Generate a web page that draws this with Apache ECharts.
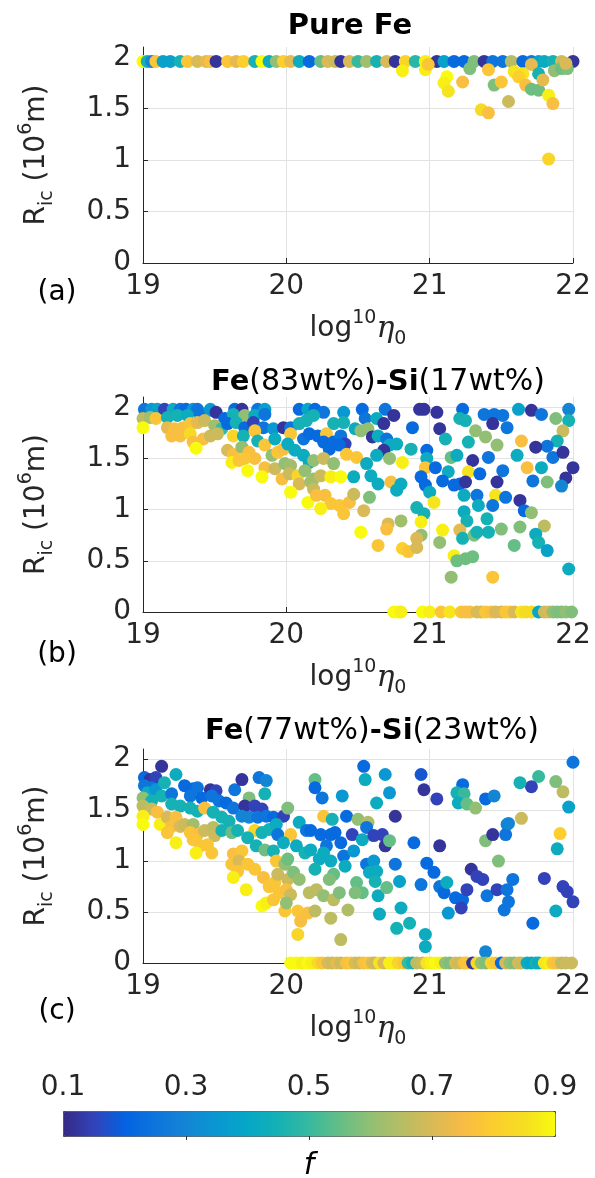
<!DOCTYPE html>
<html>
<head>
<meta charset="utf-8">
<script src="https://cdn.jsdelivr.net/npm/echarts@6.0.0/dist/echarts.min.js"></script>
<style>
  html, body { margin: 0; padding: 0; background: #fff; }
  #chart { width: 595px; height: 1178px; }
</style>
</head>
<body>
<div id="chart"></div>
<script>
// [log10 eta0, R_ic (10^6 m), f]
const pureFe = [
  [19.00,1.96,0.9],[19.03,1.96,0.45],[19.06,1.96,0.3],[19.09,1.96,0.78],[19.14,1.96,0.38],[19.19,1.96,0.38],
  [19.26,1.96,0.45],[19.31,1.96,0.78],[19.38,1.96,0.7],[19.44,1.96,0.72],[19.47,1.96,0.76],[19.51,1.96,0.12],
  [19.59,1.96,0.78],[19.65,1.96,0.72],[19.70,1.96,0.8],[19.78,1.96,0.45],[19.83,1.96,0.9],[19.88,1.96,0.42],
  [19.93,1.96,0.6],[19.98,1.96,0.8],[20.03,1.96,0.72],[20.09,1.96,0.42],[20.16,1.96,0.22],[20.24,1.96,0.55],
  [20.29,1.96,0.7],[20.34,1.96,0.68],[20.38,1.96,0.12],[20.44,1.96,0.7],[20.50,1.96,0.5],[20.56,1.96,0.62],
  [20.63,1.96,0.45],[20.70,1.96,0.7],[20.76,1.96,0.12],[20.83,1.96,0.82],[20.90,1.96,0.48],[20.97,1.96,0.88],
  [21.05,1.96,0.12],[21.10,1.96,0.38],[21.17,1.96,0.22],[21.24,1.96,0.22],[21.31,1.96,0.58],[21.38,1.96,0.12],
  [21.44,1.96,0.25],[21.51,1.96,0.25],[21.57,1.96,0.65],[21.65,1.96,0.22],[21.71,1.96,0.25],[21.76,1.96,0.38],
  [21.80,1.96,0.42],[21.86,1.96,0.45],[21.92,1.96,0.68],[22.00,1.96,0.12],
  [20.81,1.87,0.88],[20.97,1.88,0.88],[20.99,1.93,0.78],[21.12,1.81,0.9],[21.10,1.75,0.88],[21.13,1.67,0.86],
  [21.23,1.76,0.76],[21.28,1.89,0.58],[21.41,1.88,0.78],[21.45,1.73,0.58],[21.50,1.76,0.78],[21.55,1.57,0.68],
  [21.36,1.49,0.84],[21.41,1.46,0.76],[21.59,1.86,0.86],[21.65,1.84,0.86],[21.62,1.81,0.8],[21.67,1.73,0.76],
  [21.71,1.69,0.56],[21.76,1.68,0.56],[21.71,1.93,0.72],[21.76,1.84,0.45],[21.79,1.78,0.72],[21.83,1.63,0.88],
  [21.86,1.55,0.76],[21.87,1.87,0.6],[21.92,1.89,0.56],[21.96,1.89,0.58],[21.83,1.01,0.82],[21.95,1.94,0.7]
];

const fe83Si17 = [
  [19.01,1.98,0.25],[19.06,1.98,0.35],[19.10,1.98,0.38],[19.15,1.98,0.15],[19.21,1.98,0.42],[19.26,1.98,0.25],
  [19.30,1.98,0.22],[19.35,1.98,0.35],[19.38,1.98,0.25],[19.47,1.98,0.42],[19.64,1.98,0.22],[19.69,1.98,0.12],
  [19.80,1.98,0.25],[19.85,1.98,0.38],[20.09,1.98,0.22],[20.15,1.98,0.4],
  [19.00,1.89,0.66],[19.05,1.90,0.62],[19.09,1.89,0.78],[19.17,1.90,0.45],[19.24,1.92,0.45],[19.31,1.92,0.42],
  [19.40,1.92,0.25],[19.47,1.97,0.35],[19.51,1.95,0.12],[19.57,1.89,0.22],[19.63,1.93,0.45],[19.71,1.92,0.6],
  [19.78,1.92,0.42],[19.85,1.93,0.25],
  [19.00,1.80,0.9],[19.17,1.80,0.72],[19.22,1.79,0.76],[19.28,1.80,0.76],[19.33,1.84,0.78],[19.38,1.85,0.72],
  [19.43,1.87,0.68],[19.50,1.82,0.62],[19.55,1.79,0.5],[19.59,1.84,0.22],[19.65,1.85,0.45],[19.71,1.80,0.22],
  [19.77,1.85,0.15],[19.84,1.80,0.25],[19.91,1.79,0.35],[19.98,1.80,0.12],[20.03,1.80,0.25],[20.09,1.84,0.45],
  [20.14,1.87,0.45],
  [19.20,1.72,0.76],[19.26,1.72,0.76],[19.33,1.74,0.84],[19.35,1.66,0.76],[19.42,1.69,0.76],[19.47,1.72,0.68],
  [19.52,1.74,0.68],[19.63,1.72,0.82],[19.70,1.72,0.45],[19.78,1.77,0.78],[19.80,1.67,0.45],[19.85,1.63,0.78],
  [19.92,1.69,0.42],[20.03,1.74,0.78],[20.12,1.69,0.25],[20.16,1.74,0.22],[19.37,1.60,0.9],
  [19.59,1.58,0.7],[19.63,1.54,0.76],[19.69,1.61,0.6],[19.74,1.56,0.76],[19.78,1.50,0.76],[19.71,1.50,0.78],
  [19.62,1.46,0.88],[19.67,1.48,0.78],[19.90,1.53,0.6],[19.94,1.56,0.78],[19.98,1.59,0.76],[20.01,1.64,0.42],
  [20.06,1.58,0.42],[20.12,1.53,0.42],[20.16,1.46,0.42],
  [19.73,1.38,0.9],[19.85,1.41,0.76],[19.92,1.40,0.68],[19.99,1.45,0.6],[20.03,1.43,0.62],[19.83,1.32,0.9],
  [19.97,1.30,0.76],[20.02,1.35,0.68],[20.08,1.33,0.82],[20.13,1.38,0.6],[20.09,1.25,0.7],[20.03,1.17,0.9],
  [20.15,1.07,0.9],[20.17,1.27,0.62],
  [20.20,1.98,0.22],[20.26,1.95,0.25],[20.40,1.95,0.35],[20.53,1.98,0.22],[20.55,1.89,0.25],[20.69,1.98,0.25],
  [20.75,1.92,0.12],[20.93,1.98,0.12],[20.96,1.98,0.12],[21.05,1.95,0.12],[21.23,1.98,0.22],[21.38,1.93,0.25],
  [21.45,1.93,0.25],[21.51,1.92,0.25],
  [20.19,1.92,0.45],[20.33,1.84,0.45],[20.40,1.85,0.45],[20.48,1.79,0.42],[20.52,1.77,0.6],[20.57,1.79,0.6],
  [20.63,1.89,0.42],[20.68,1.84,0.12],[20.60,1.71,0.12],[20.88,1.80,0.22],[21.07,1.79,0.12],[21.21,1.89,0.45],
  [21.25,1.87,0.45],[21.32,1.77,0.6],[21.44,1.84,0.12],[21.54,1.80,0.25],
  [20.22,1.72,0.22],[20.28,1.74,0.78],[20.26,1.66,0.22],[20.33,1.66,0.22],[20.38,1.72,0.25],[20.41,1.64,0.15],
  [20.37,1.63,0.22],[20.30,1.59,0.22],[20.64,1.72,0.42],[20.70,1.69,0.25],[20.77,1.64,0.42],[20.72,1.63,0.42],
  [20.68,1.58,0.12],[20.87,1.59,0.45],[20.98,1.58,0.22],[21.11,1.69,0.45],[21.27,1.66,0.45],[21.39,1.71,0.6],
  [21.47,1.63,0.6],
  [20.19,1.48,0.6],[20.26,1.50,0.68],[20.33,1.45,0.6],[20.42,1.54,0.78],[20.49,1.51,0.78],[20.56,1.45,0.42],
  [20.63,1.53,0.42],[20.72,1.50,0.6],[20.81,1.46,0.88],[20.98,1.50,0.42],[20.97,1.41,0.78],[21.04,1.41,0.22],
  [21.15,1.51,0.55],[21.19,1.53,0.42],[21.30,1.48,0.12],[21.41,1.51,0.25],[21.27,1.37,0.86],[21.13,1.37,0.42],
  [21.35,1.35,0.22],[21.51,1.38,0.25],
  [20.19,1.30,0.62],[20.24,1.33,0.68],[20.31,1.32,0.88],[20.38,1.32,0.9],[20.47,1.32,0.42],[20.59,1.33,0.42],
  [20.64,1.25,0.42],[20.73,1.27,0.76],[20.80,1.25,0.42],[20.77,1.19,0.42],[20.94,1.32,0.22],[20.97,1.24,0.22],
  [21.00,1.17,0.42],[21.09,1.28,0.22],[21.17,1.24,0.22],[21.21,1.25,0.22],[21.25,1.27,0.12],[21.47,1.27,0.12],
  [21.46,1.14,0.86],[21.53,1.12,0.25],[21.24,1.14,0.42],[21.33,1.14,0.25],
  [20.19,1.20,0.68],[20.21,1.14,0.76],[20.27,1.14,0.76],[20.31,1.06,0.78],[20.37,1.04,0.78],[20.40,0.96,0.78],
  [20.44,1.07,0.76],[20.47,1.15,0.68],[20.54,0.99,0.7],[20.58,1.12,0.58],[20.24,1.01,0.88],[20.91,1.02,0.45],
  [20.96,0.96,0.45],[21.03,1.07,0.86],[21.24,0.98,0.42],[21.26,0.89,0.45],[21.34,1.04,0.42],[21.40,0.91,0.45],
  [21.44,1.04,0.25],
  [20.52,0.78,0.9],[20.71,0.86,0.7],[20.70,0.81,0.76],[20.80,0.89,0.62],[20.94,0.88,0.88],[20.94,0.75,0.6],
  [20.91,0.72,0.7],[20.64,0.65,0.78],[20.81,0.62,0.8],[20.85,0.59,0.78],[20.91,0.63,0.7],[21.07,0.68,0.6],
  [21.09,0.80,0.88],[21.21,0.80,0.72],[21.23,0.72,0.45],[21.31,0.75,0.58],[21.33,0.78,0.45],[21.41,0.78,0.45],
  [21.50,0.81,0.58],
  [21.17,0.55,0.88],[21.19,0.50,0.56],[21.25,0.52,0.56],[21.30,0.54,0.56],[21.15,0.34,0.6],[21.44,0.34,0.78],
  [21.62,1.98,0.38],[21.71,1.97,0.12],[21.78,1.93,0.25],[21.88,1.89,0.58],[21.97,1.98,0.3],[21.97,1.87,0.45],
  [21.93,1.77,0.68],[21.89,1.67,0.45],[21.82,1.62,0.25],[21.74,1.61,0.12],[21.64,1.67,0.76],[21.61,1.53,0.42],
  [21.68,1.41,0.76],[21.78,1.41,0.42],[21.86,1.51,0.25],[21.93,1.56,0.12],[22.00,1.41,0.12],[21.95,1.31,0.12],
  [21.92,1.23,0.3],[21.82,1.27,0.58],[21.72,1.28,0.25],[21.63,1.09,0.12],[21.66,0.99,0.22],[21.71,0.97,0.6],
  [21.63,0.83,0.58],[21.80,0.84,0.66],[21.74,0.76,0.42],[21.76,0.68,0.45],[21.82,0.60,0.38],[21.59,0.65,0.55],
  [21.97,0.42,0.42],
  [20.75,0,0.9],[20.78,0,0.9],[20.80,0,0.88],[20.95,0,0.9],[21.00,0,0.88],[21.08,0,0.78],[21.14,0,0.86],
  [21.22,0,0.78],[21.25,0,0.76],[21.28,0,0.76],[21.33,0,0.7],[21.36,0,0.7],[21.39,0,0.78],[21.43,0,0.76],
  [21.46,0,0.7],[21.50,0,0.7],[21.53,0,0.78],[21.56,0,0.78],[21.59,0,0.7],[21.64,0,0.86],[21.67,0,0.84],
  [21.71,0,0.84],[21.76,0,0.4],[21.80,0,0.68],[21.83,0,0.7],[21.86,0,0.6],[21.89,0,0.58],[21.92,0,0.58],
  [21.95,0,0.6],[21.99,0,0.58]
];

const fe77Si23 = [
  [19.13,1.93,0.12],[19.23,1.85,0.42],[19.01,1.82,0.22],[19.05,1.80,0.12],[19.09,1.82,0.15],[19.01,1.74,0.25],
  [19.06,1.72,0.25],[19.03,1.67,0.42],[19.09,1.70,0.35],[19.15,1.77,0.45],[19.00,1.62,0.6],[19.06,1.59,0.45],
  [19.13,1.64,0.45],[19.20,1.66,0.25],[19.29,1.74,0.22],[19.35,1.71,0.22],[19.38,1.72,0.25],[19.47,1.70,0.12],
  [19.51,1.69,0.15],[19.64,1.70,0.25],[19.69,1.80,0.12],[19.81,1.82,0.25],[19.86,1.79,0.3],[19.85,1.66,0.45],
  [19.74,1.62,0.58],
  [19.33,1.64,0.25],[19.41,1.62,0.22],[19.48,1.64,0.25],[19.53,1.59,0.25],[19.58,1.57,0.22],[19.63,1.52,0.25],
  [19.71,1.54,0.12],[19.78,1.54,0.15],[19.83,1.51,0.15],[19.20,1.56,0.45],[19.26,1.54,0.45],[19.33,1.52,0.45],
  [19.38,1.49,0.45],[19.43,1.52,0.76],[19.49,1.48,0.45],[19.55,1.43,0.45],[19.60,1.39,0.45],[19.69,1.44,0.3],
  [19.74,1.43,0.3],[19.80,1.43,0.25],[19.86,1.44,0.25],[19.91,1.43,0.22],[19.98,1.44,0.15],[20.01,1.52,0.58],
  [19.00,1.54,0.66],[19.06,1.51,0.68],[19.10,1.48,0.76],[19.00,1.44,0.88],[19.00,1.36,0.9],[19.12,1.36,0.88],
  [19.17,1.43,0.7],[19.23,1.43,0.76],[19.20,1.34,0.76],[19.26,1.34,0.7],[19.17,1.28,0.78],[19.29,1.36,0.68],
  [19.35,1.36,0.62],[19.23,1.18,0.88],[19.33,1.28,0.78],[19.38,1.26,0.76],[19.35,1.21,0.78],[19.43,1.30,0.68],
  [19.49,1.33,0.66],[19.50,1.25,0.68],[19.45,1.16,0.78],[19.40,1.15,0.78],[19.37,1.08,0.88],[19.48,1.08,0.78],
  [19.55,1.30,0.45],[19.62,1.28,0.55],[19.66,1.30,0.45],[19.78,1.30,0.82],[19.73,1.23,0.45],[19.83,1.28,0.45],
  [19.88,1.31,0.45],[19.93,1.36,0.42],[19.94,1.26,0.25],[20.03,1.26,0.78],[20.09,1.38,0.42],[20.14,1.30,0.25],
  [19.79,1.15,0.45],[19.85,1.11,0.56],[19.91,1.10,0.45],[19.98,1.18,0.42],[20.07,1.15,0.42],[20.13,1.08,0.45],
  [19.63,1.07,0.76],[19.69,1.10,0.78],[19.62,0.97,0.78],[19.67,1.00,0.7],[19.73,0.97,0.78],[19.66,0.90,0.78],
  [19.63,0.84,0.88],[19.78,0.92,0.78],[19.72,0.72,0.88],[19.84,0.84,0.76],[19.93,1.00,0.78],[19.99,0.97,0.6],
  [20.01,1.02,0.56],[19.88,0.75,0.78],[19.92,0.79,0.78],[19.94,0.87,0.68],[20.01,0.82,0.68],[20.05,0.89,0.58],
  [20.09,0.82,0.6],
  [19.83,0.56,0.9],[19.86,0.59,0.88],[19.91,0.62,0.78],[19.95,0.69,0.78],[20.00,0.72,0.76],[20.03,0.67,0.68],
  [19.99,0.51,0.78],[20.08,0.51,0.78],[20.10,0.41,0.76],[20.15,0.49,0.76],[20.08,0.28,0.82],[20.16,0.69,0.66],
  [20.00,0.59,0.6],
  [20.54,1.93,0.22],[20.55,1.80,0.42],[20.69,1.85,0.35],[20.94,1.85,0.18],[20.96,1.70,0.12],[20.20,1.80,0.55],
  [20.20,1.72,0.22],[20.25,1.62,0.25],[20.39,1.64,0.35],[20.63,1.57,0.42],[20.72,1.67,0.35],[21.05,1.61,0.15],
  [21.23,1.75,0.22],[21.19,1.67,0.45],[21.24,1.66,0.5],[21.20,1.57,0.42],[21.26,1.56,0.55],[21.32,1.52,0.6],
  [21.39,1.61,0.22],[21.45,1.64,0.3],
  [20.26,1.44,0.78],[20.32,1.41,0.45],[20.42,1.44,0.22],[20.50,1.41,0.6],[20.57,1.38,0.64],[20.56,1.33,0.25],
  [20.76,1.44,0.12],[20.17,1.30,0.22],[20.24,1.26,0.22],[20.31,1.26,0.22],[20.34,1.28,0.22],[20.38,1.18,0.22],
  [20.28,1.15,0.25],[20.46,1.26,0.15],[20.53,1.21,0.42],[20.61,1.25,0.15],[20.67,1.26,0.15],[20.69,1.15,0.12],
  [20.72,1.20,0.55],[20.89,1.18,0.22],[21.07,1.15,0.12],[21.39,1.20,0.58],[21.44,1.26,0.12],[21.54,1.36,0.3],
  [21.53,1.26,0.25],
  [20.17,1.11,0.42],[20.26,1.08,0.42],[20.23,1.02,0.42],[20.31,1.00,0.42],[20.40,1.05,0.25],[20.47,1.10,0.35],
  [20.41,0.95,0.42],[20.56,0.97,0.25],[20.61,1.00,0.35],[20.58,0.89,0.42],[20.63,0.90,0.42],[20.62,0.80,0.45],
  [20.76,0.97,0.25],[20.98,0.98,0.22],[21.03,0.89,0.22],[20.94,0.77,0.25],[20.79,0.80,0.38],
  [20.20,0.92,0.45],[20.33,0.87,0.55],[20.30,0.82,0.58],[20.49,0.79,0.55],[20.53,0.69,0.55],[20.48,0.69,0.58],
  [20.21,0.72,0.66],[20.26,0.66,0.6],[20.33,0.62,0.66],[20.37,0.69,0.58],[20.43,0.52,0.64],[20.20,0.51,0.66],
  [20.31,0.44,0.66],[20.64,0.66,0.42],[20.70,0.74,0.55],[20.80,0.54,0.42],[20.65,0.48,0.42],[20.77,0.34,0.45],
  [20.86,0.39,0.45],[20.97,0.28,0.42],[20.97,0.16,0.42],[20.38,0.23,0.66],
  [21.07,0.75,0.25],[21.10,0.69,0.22],[21.12,0.79,0.42],[21.18,0.64,0.22],[21.23,0.62,0.22],[21.22,0.54,0.15],
  [21.13,0.49,0.35],[21.29,0.92,0.12],[21.33,0.85,0.15],[21.37,0.82,0.15],[21.26,0.72,0.15],[21.40,0.66,0.25],
  [21.47,0.72,0.15],[21.48,1.00,0.58],[21.54,0.72,0.25],[21.52,0.52,0.25],[21.39,0.11,0.3],
  [22.00,1.97,0.25],[21.97,1.53,0.38],[21.93,1.68,0.66],[21.88,1.78,0.58],[21.76,1.83,0.5],[21.71,1.73,0.15],
  [21.63,1.77,0.45],[21.64,1.42,0.68],[21.55,1.37,0.3],[21.91,1.27,0.8],[21.89,1.12,0.42],[21.58,0.82,0.25],
  [21.55,0.60,0.25],[21.80,0.83,0.15],[21.93,0.75,0.15],[21.96,0.70,0.15],[22.00,0.60,0.15],[21.88,0.51,0.42],
  [21.72,0.39,0.22],
  [20.03,0,0.9],[20.07,0,0.9],[20.11,0,0.88],[20.15,0,0.9],[20.18,0,0.88],[20.22,0,0.84],[20.25,0,0.78],
  [20.29,0,0.7],[20.32,0,0.68],[20.35,0,0.72],[20.38,0,0.68],[20.42,0,0.76],[20.45,0,0.78],[20.48,0,0.7],
  [20.51,0,0.68],[20.54,0,0.76],[20.57,0,0.78],[20.60,0,0.7],[20.62,0,0.68],[20.65,0,0.86],[20.68,0,0.7],
  [20.72,0,0.88],[20.75,0,0.88],[20.78,0,0.82],[20.82,0,0.78],[20.85,0,0.5],[20.88,0,0.45],[20.91,0,0.66],
  [20.95,0,0.68],[20.98,0,0.86],[21.01,0,0.88],[21.04,0,0.9],[21.08,0,0.88],[21.11,0,0.6],[21.14,0,0.58],
  [21.18,0,0.7],[21.21,0,0.68],[21.24,0,0.76],[21.26,0,0.78],[21.30,0,0.12],[21.33,0,0.84],[21.36,0,0.6],
  [21.39,0,0.58],[21.43,0,0.82],[21.46,0,0.78],[21.50,0,0.22],[21.53,0,0.7],[21.56,0,0.6],[21.59,0,0.58],
  [21.62,0,0.7],[21.64,0,0.68],[21.68,0,0.42],[21.71,0,0.4],[21.74,0,0.45],[21.76,0,0.42],[21.80,0,0.86],
  [21.83,0,0.88],[21.86,0,0.78],[21.89,0,0.76],[21.92,0,0.66],[21.95,0,0.68],[21.99,0,0.68]
];

const panelData = [pureFe, fe83Si17, fe77Si23];
const panelLetters = ['(a)', '(b)', '(c)'];
const colorbarTicks = [0.3, 0.5, 0.7];

// parula, sampled every 4th entry of the 64-colour map
const parula = [
  '#352a87', '#3243ba', '#0363e1', '#0d75dc', '#1485d4', '#0998d1', '#06a7c6', '#15b1b4',
  '#38b99e', '#65be86', '#92bf73', '#b7bd64', '#d9ba56', '#f8bb44', '#fcce2e', '#f5de21', '#f9fb0e'
];

const FONT = 'DejaVu Sans';
const INK = '#262626';

// plot boxes, pixel layout
const grids = [
  { left: 143, top: 47, width: 430, height: 216 },
  { left: 143, top: 397, width: 430, height: 215 },
  { left: 143, top: 749, width: 430, height: 214 },
  { left: 63, top: 1111, width: 492, height: 25 } // colorbar
];

const subSup = {
  m: { fontSize: 28, lineHeight: 40, fontFamily: FONT, color: INK },
  s: { fontSize: 19, lineHeight: 19, verticalAlign: 'bottom', fontFamily: FONT, color: INK },
  p: { fontSize: 19, lineHeight: 19, verticalAlign: 'top', fontFamily: FONT, color: INK },
  e: { fontSize: 30, lineHeight: 40, fontStyle: 'italic', fontFamily: 'DejaVu Serif', color: INK }
};

function xAxisFor(i) {
  return {
    gridIndex: i,
    type: 'value',
    min: 19,
    max: 22,
    interval: 1,
    name: '{m|log}{p|10}{e|η}{s|0}',
    nameLocation: 'middle',
    nameGap: 46,
    nameTextStyle: { rich: subSup },
    axisLine: { onZero: false, lineStyle: { color: INK, width: 1 } },
    axisTick: { inside: true, length: 5, lineStyle: { color: INK } },
    axisLabel: { fontSize: 28, fontFamily: FONT, color: INK, margin: 10 },
    splitLine: { show: true, showMinLine: false, lineStyle: { color: '#e2e2e2' } }
  };
}

function yAxisFor(i) {
  return {
    gridIndex: i,
    type: 'value',
    min: 0,
    max: 2.1,
    interval: 0.5,
    name: '{m|R}{s|ic}{m| (10}{p|6}{m|m)}',
    nameLocation: 'middle',
    nameGap: 86,
    nameTextStyle: { rich: subSup },
    axisLine: { onZero: false, lineStyle: { color: INK, width: 1 } },
    axisTick: { inside: true, length: 5, lineStyle: { color: INK } },
    axisLabel: { fontSize: 28, fontFamily: FONT, color: INK, margin: 12, showMaxLabel: false },
    splitLine: { show: true, showMinLine: false, showMaxLine: false, lineStyle: { color: '#e2e2e2' } }
  };
}

const xAxes = [0, 1, 2].map(xAxisFor);
const yAxes = [0, 1, 2].map(yAxisFor);

// colorbar axis (labels + inner ticks on top)
xAxes.push({
  gridIndex: 3,
  type: 'value',
  min: 0.1,
  max: 0.9,
  interval: 0.2,
  position: 'top',
  z: 10,
  axisLine: { show: false },
  axisTick: { inside: true, length: 4, customValues: colorbarTicks, lineStyle: { color: '#333' } },
  axisLabel: { fontSize: 28, fontFamily: FONT, color: INK, margin: 9 },
  splitLine: { show: false }
});
yAxes.push({ gridIndex: 3, type: 'value', min: 0, max: 1, show: false });

const titles = [
  { x: 350, y: 26, text: '{b|Pure Fe}' },
  { x: 378, y: 382, text: '{b|Fe}{r|(83wt%)}{b|-Si}{r|(17wt%)}' },
  { x: 372, y: 731, text: '{b|Fe}{r|(77wt%)}{b|-Si}{r|(23wt%)}' }
];
const letterPos = [[57, 293], [57, 655], [57, 1012]];

const graphic = titles.map(t => ({
  type: 'text',
  x: t.x,
  y: t.y,
  style: {
    text: t.text,
    align: 'center',
    verticalAlign: 'middle',
    rich: {
      b: { fontSize: 29, fontWeight: 'bold', fontFamily: FONT, fill: '#000' },
      r: { fontSize: 30, fontFamily: FONT, fill: '#000' }
    }
  }
}));
panelLetters.forEach((s, i) => {
  graphic.push({
    type: 'text',
    x: letterPos[i][0],
    y: letterPos[i][1],
    style: { text: s, font: '28px "DejaVu Sans"', fill: '#000', align: 'center', verticalAlign: 'middle' }
  });
});
graphic.push({
  type: 'text',
  x: 309,
  y: 1166,
  style: { text: 'f', font: 'italic 30px "DejaVu Sans"', fill: '#000', align: 'center', verticalAlign: 'middle' }
});

const chart = echarts.init(document.getElementById('chart'), null, { renderer: 'canvas' });
chart.setOption({
  animation: false,
  backgroundColor: '#fff',
  grid: grids,
  xAxis: xAxes,
  yAxis: yAxes,
  visualMap: {
    type: 'continuous',
    min: 0.1,
    max: 0.9,
    dimension: 2,
    seriesIndex: [0, 1, 2],
    orient: 'horizontal',
    left: 63,
    top: 1111,
    itemWidth: 25,
    itemHeight: 492,
    padding: 0,
    calculable: false,
    hoverLink: false,
    borderColor: '#444',
    borderWidth: 1,
    inRange: { color: parula }
  },
  graphic: graphic,
  series: panelData.map((d, i) => ({
    type: 'scatter',
    xAxisIndex: i,
    yAxisIndex: i,
    data: d,
    symbolSize: 13,
    itemStyle: { opacity: 1 }
  }))
});
</script>
</body>
</html>
